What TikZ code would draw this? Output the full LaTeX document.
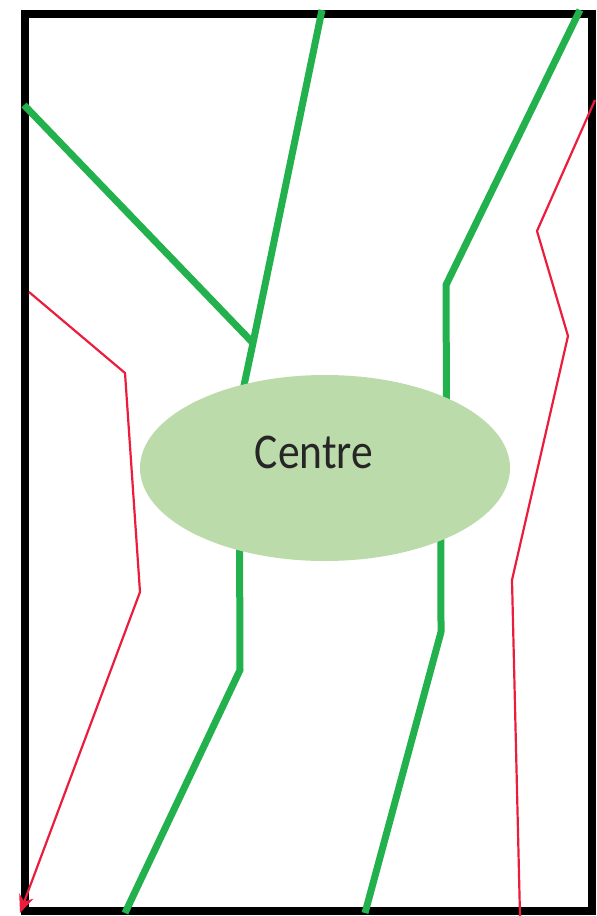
\documentclass[tikz,border=0pt]{standalone}
\usepackage{fontspec}
\setmainfont{Carlito}
\usetikzlibrary{shapes.geometric,arrows.meta,calc}
\definecolor{lgreen}{RGB}{34,177,76}
\definecolor{efill}{RGB}{187,219,171}
\definecolor{lred}{RGB}{236,28,60}
\pgfdeclarelayer{bg}
\pgfdeclarelayer{frm}
\pgfsetlayers{frm,bg,main}
\begin{document}
\begin{tikzpicture}[x=1pt,y=-1pt,
  greenline/.style={draw=lgreen,line width=7pt,line join=round},
  redline/.style={draw=lred,line width=2.2pt,line join=round},
  frameline/.style={draw=black,line width=8pt},
  region/.style={ellipse,fill=efill,minimum width=370pt,minimum height=186pt,inner sep=0pt,outer sep=0pt}]
\useasboundingbox (0,0) rectangle (597,916);
\node[region] (centre) at (325,468) {};
\node[font=\fontsize{50}{60}\selectfont,inner sep=0pt,text=black!85] (label) at (314,452) {\scalebox{0.87}[1]{Centre}};
% coordinates
\coordinate (fTL) at (25,14);
\coordinate (fBR) at (592,911);
\coordinate (gTop) at (322,10);
\coordinate (gJ) at (253,343);
\coordinate (gLeft) at (24,105);
\coordinate (gRTop) at (580,10);
\coordinate (gRK) at (446,285);
\coordinate (gBK) at (240,670);
\coordinate (gBot) at (125,913);
\coordinate (gRBK) at (441,632);
\coordinate (gRBot) at (365,913);
\coordinate (rL0) at (29,292);
\coordinate (rL1) at (125,373);
\coordinate (rL2) at (140,592);
\coordinate (rL3) at (20,913);
\coordinate (rR0) at (595,100);
\coordinate (rR1) at (537,231);
\coordinate (rR2) at (568,336);
\coordinate (rR3) at (512,580);
\coordinate (rR4) at (520,916);
\begin{pgfonlayer}{frm}
\draw[frameline] (fTL) rectangle (fBR);
\end{pgfonlayer}
\begin{pgfonlayer}{bg}
\draw[greenline] (gTop) -- (gJ) -- ($(gJ)!1.4!(centre.134)$);
\draw[greenline] (gLeft) -- (gJ);
\draw[greenline] (gRTop) -- (gRK) -- ($(gRK)!1.2!(centre.30)$);
\draw[greenline] ($(gBK)!1.2!(centre.224)$) -- (gBK) -- (gBot);
\draw[greenline] ($(gRBK)!1.2!(centre.328)$) -- (gRBK) -- (gRBot);
\end{pgfonlayer}
\draw[redline,-{Stealth[length=18pt,width=15pt]}] (rL0) -- (rL1) -- (rL2) -- (rL3);
\draw[redline] (rR0) -- (rR1) -- (rR2) -- (rR3) -- (rR4);
\end{tikzpicture}
\end{document}
